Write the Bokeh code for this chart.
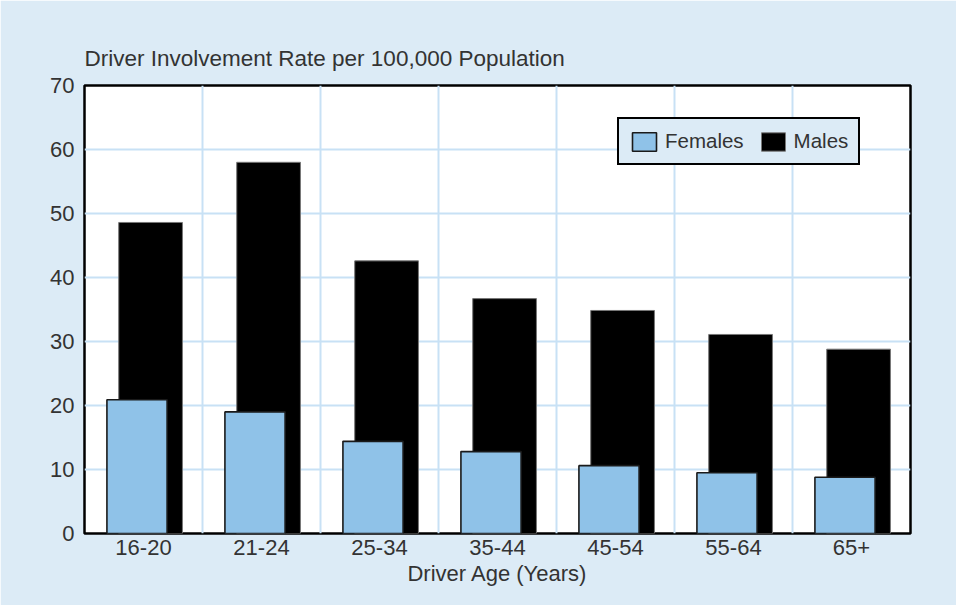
import numpy as np
from bokeh.plotting import figure
from bokeh.models import (ColumnDataSource, Range1d, FixedTicker, Legend, LegendItem)
from bokeh.transform import dodge
from bokeh.embed import file_html
from bokeh.resources import INLINE

ages = ["16-20", "21-24", "25-34", "35-44", "45-54", "55-64", "65+"]
females = [20.9, 19.0, 14.4, 12.8, 10.6, 9.5, 8.8]
males = [48.6, 58.0, 42.6, 36.7, 34.85, 31.1, 28.8]
y_ticks = [0, 10, 20, 30, 40, 50, 60, 70]

BG = "#dcebf6"
GRID = "#c8e1f5"
FEM = "#8fc2e8"
TXT = "#333333"
FONT = "Liberation Sans"

x_pos = [i + 0.5 for i in range(len(ages))]
src = ColumnDataSource(dict(x=x_pos, females=females, males=males))

p = figure(width=956, height=605, output_backend="svg", toolbar_location=None,
           x_range=Range1d(0, 7), y_range=Range1d(0, 70),
           min_border_left=84, min_border_right=46, min_border_top=85,
           min_border_bottom=72)
p.border_fill_color = BG
p.background_fill_color = "white"
p.outline_line_color = "black"
p.outline_line_width = 2.5

# grid
p.xgrid.ticker = FixedTicker(ticks=[1, 2, 3, 4, 5, 6])
p.xgrid.grid_line_color = GRID
p.xgrid.grid_line_width = 2
p.ygrid.ticker = FixedTicker(ticks=y_ticks)
p.ygrid.grid_line_color = GRID
p.ygrid.grid_line_width = 2

# axes
p.xaxis.ticker = FixedTicker(ticks=x_pos)
p.xaxis.major_label_overrides = {x: a for x, a in zip(x_pos, ages)}
p.yaxis.ticker = FixedTicker(ticks=y_ticks)
for ax in (p.xaxis[0], p.yaxis[0]):
    ax.axis_line_color = None
    ax.major_tick_line_color = None
    ax.minor_tick_line_color = None
    ax.major_tick_out = 0
    ax.major_tick_in = 0
    ax.minor_tick_out = 0
    ax.minor_tick_in = 0
    ax.major_label_text_font = FONT
    ax.major_label_text_font_size = "22px"
    ax.major_label_text_color = TXT
p.yaxis.major_label_standoff = 10
p.xaxis.major_label_standoff = 6
p.xaxis.axis_label = "Driver Age (Years)"
p.xaxis.axis_label_text_font = FONT
p.xaxis.axis_label_text_font_size = "22px"
p.xaxis.axis_label_text_font_style = "normal"
p.xaxis.axis_label_text_color = TXT
p.xaxis.axis_label_standoff = 3

p.title.text = "Driver Involvement Rate per 100,000 Population"
p.title.align = "left"
p.title.text_font = FONT
p.title.text_font_size = "22.5px"
p.title.text_font_style = "normal"
p.title.text_color = TXT
p.title.standoff = 30

r_m = p.vbar(x=dodge("x", 0.06, range=p.x_range), top="males", bottom=0, width=0.54,
             source=src, fill_color="black", line_color="#777777", line_width=1)
r_f = p.vbar(x=dodge("x", -0.055, range=p.x_range), top="females", bottom=0, width=0.51,
             source=src, fill_color=FEM, line_color="#1a1a1a", line_width=1.6)

legend = Legend(items=[LegendItem(label="Females", renderers=[r_f]),
                       LegendItem(label="Males", renderers=[r_m])],
                orientation="horizontal", location=(533, 368))
legend.background_fill_color = BG
legend.background_fill_alpha = 1
legend.border_line_color = "black"
legend.border_line_alpha = 1
legend.border_line_width = 2.5
legend.label_text_font = FONT
legend.label_text_font_size = "20.5px"
legend.label_text_color = TXT
legend.glyph_width = 30
legend.glyph_height = 23
legend.label_standoff = 6
legend.spacing = 14
legend.padding = 10
legend.margin = 0
p.add_layout(legend, "center")

open("out.html", "w").write(file_html(p, INLINE))
